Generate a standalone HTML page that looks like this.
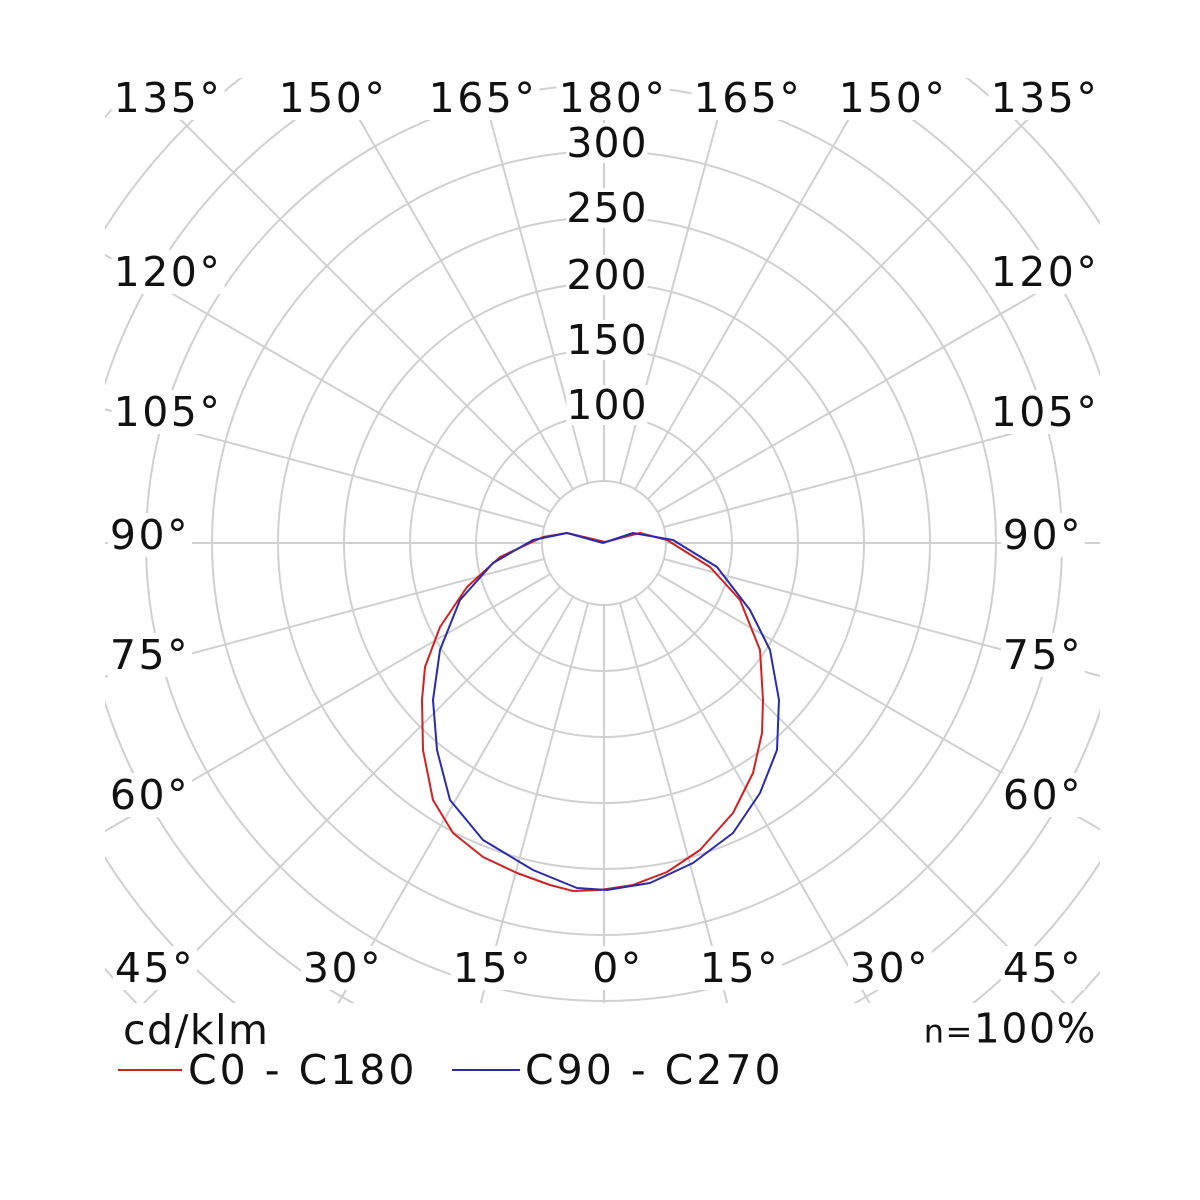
<!DOCTYPE html>
<html><head><meta charset="utf-8"><style>
html,body{margin:0;background:#fff;overflow:hidden;width:1200px;height:1200px;}
#w{position:relative;width:1200px;height:1200px;overflow:hidden;background:#fff;font-family:"DejaVu Sans","Liberation Sans",sans-serif;color:#111;}
.l{position:absolute;transform:translate(-50%,-50%);background:#fff;font-size:41px;line-height:44px;padding:0 2px;white-space:nowrap;letter-spacing:2.5px;}
.v{position:absolute;transform:translate(-50%,-50%);background:#fff;font-size:41px;line-height:40px;white-space:nowrap;letter-spacing:1px;}
.t{position:absolute;font-size:41px;line-height:44px;white-space:nowrap;letter-spacing:3px;transform:translateY(-50%);}
</style></head><body><div id="w">
<svg width="1200" height="1200" style="position:absolute;left:0;top:0">
<defs><clipPath id="c"><rect x="105" y="78" width="995" height="925"/></clipPath></defs>
<g clip-path="url(#c)" stroke="#d0d0d0" stroke-width="2" fill="none" id="g"></g>
<polyline fill="none" stroke="#d42020" stroke-width="2" stroke-linejoin="round" points="605,542 567,533 543,537 500,557 467,587 440,627 425,667 422,700 423,750 433,800 453,833 483,857 517,873 550,885 573,891 600,890 633,885 667,872 700,850 733,813 753,773 762,733 763,700 760,650 740,600 710,567 667,540 640,533 605,542"/>
<polyline fill="none" stroke="#2a2ab0" stroke-width="2" stroke-linejoin="round" points="603,543 567,533 533,540 493,563 460,600 440,650 433,700 437,750 450,800 483,840 533,870 577,888 607,890 650,883 693,863 733,833 760,793 777,750 779,700 770,650 750,610 717,567 673,540 633,533 603,543"/>
<line x1="118" y1="1070" x2="182" y2="1070" stroke="#d42020" stroke-width="2"/>
<line x1="452" y1="1070" x2="520" y2="1070" stroke="#2a2ab0" stroke-width="2"/>
</svg>
<script>
(function(){var g=document.getElementById('g'),cx=604,cy=543,s='';
for(var k=0;k<12;k++){s+='<circle cx="'+cx+'" cy="'+cy+'" r="'+(62+66*k)+'"/>';}
for(var a=0;a<360;a+=15){var t=a*Math.PI/180,x1=cx+62*Math.sin(t),y1=cy+62*Math.cos(t),x2=cx+800*Math.sin(t),y2=cy+800*Math.cos(t);
s+='<line x1="'+x1.toFixed(1)+'" y1="'+y1.toFixed(1)+'" x2="'+x2.toFixed(1)+'" y2="'+y2.toFixed(1)+'"/>';}
g.innerHTML=s;})();
</script>
<div class="l" style="left:168px;top:98px">135°</div>
<div class="l" style="left:333px;top:98px">150°</div>
<div class="l" style="left:483px;top:98px">165°</div>
<div class="l" style="left:613px;top:98px">180°</div>
<div class="l" style="left:748px;top:98px">165°</div>
<div class="l" style="left:893px;top:98px">150°</div>
<div class="l" style="left:1045px;top:98px">135°</div>
<div class="l" style="left:168px;top:272px">120°</div>
<div class="l" style="left:168px;top:412px">105°</div>
<div class="l" style="left:150px;top:535px">90°</div>
<div class="l" style="left:150px;top:655px">75°</div>
<div class="l" style="left:150px;top:795px">60°</div>
<div class="l" style="left:1045px;top:272px">120°</div>
<div class="l" style="left:1045px;top:412px">105°</div>
<div class="l" style="left:1043px;top:535px">90°</div>
<div class="l" style="left:1043px;top:655px">75°</div>
<div class="l" style="left:1043px;top:795px">60°</div>
<div class="l" style="left:155px;top:968px">45°</div>
<div class="l" style="left:343px;top:968px">30°</div>
<div class="l" style="left:493px;top:968px">15°</div>
<div class="l" style="left:618px;top:968px">0°</div>
<div class="l" style="left:740px;top:968px">15°</div>
<div class="l" style="left:890px;top:968px">30°</div>
<div class="l" style="left:1043px;top:968px">45°</div>
<div class="v" style="left:607px;top:143px">300</div>
<div class="v" style="left:607px;top:208px">250</div>
<div class="v" style="left:607px;top:275px">200</div>
<div class="v" style="left:607px;top:340px">150</div>
<div class="v" style="left:607px;top:405px">100</div>
<div class="t" style="left:123px;top:1030px;letter-spacing:1.5px">cd/klm</div>
<div class="t" style="right:103px;top:1030px;letter-spacing:1.5px"><span style="font-size:32px">n=</span>100%</div>
<div class="t" style="left:188px;top:1070px">C0 - C180</div>
<div class="t" style="left:525px;top:1070px">C90 - C270</div>
</div></body></html>
